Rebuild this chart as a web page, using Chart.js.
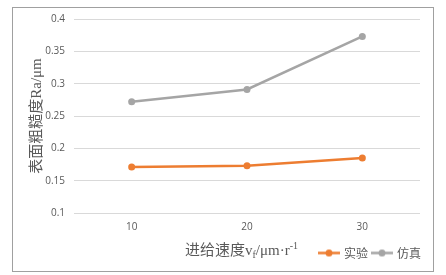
<!DOCTYPE html>
<html>
<head>
<meta charset="utf-8">
<script src="https://cdn.jsdelivr.net/npm/chart.js@4.4.1/dist/chart.umd.min.js"></script>
<style>
  html, body { margin: 0; padding: 0; background: #fff; }
  #box { width: 446px; height: 275px; }
</style>
</head>
<body>
<div id="box"><canvas id="chart" width="446" height="275"></canvas></div>
<script>
// data
const categories = ['10', '20', '30'];
const shiyan = [0.171, 0.173, 0.185];     // 实验
const fangzhen = [0.272, 0.291, 0.373];   // 仿真
const seriesNames = ['实验', '仿真'];
const yTitle = '表面粗糙度Ra/μm';
// x title: main text, subscript, text, superscript
const xTitle = ['进给速度v', 'f', '/μm·r', '-1'];

const ORANGE = '#ED7D31';
const GREY = '#A5A5A5';
const SERIF = "'Liberation Serif', 'Noto Sans CJK SC', serif";

// line with a dot in the middle, for the legend
function legendMark(color) {
  const c = document.createElement('canvas');
  c.width = 22; c.height = 9;
  const g = c.getContext('2d');
  g.strokeStyle = color;
  g.lineWidth = 2.5;
  g.beginPath(); g.moveTo(0, 4.5); g.lineTo(22, 4.5); g.stroke();
  g.fillStyle = color;
  g.beginPath(); g.arc(11, 4.5, 3.5, 0, Math.PI * 2); g.fill();
  return c;
}
const marks = [legendMark(ORANGE), legendMark(GREY)];

const frame = {
  id: 'frame',
  beforeDraw(chart) {
    const ctx = chart.ctx;
    ctx.save();
    ctx.fillStyle = '#fff';
    ctx.fillRect(0, 0, chart.width, chart.height);
    ctx.strokeStyle = '#a0a0a0';
    ctx.lineWidth = 1;
    ctx.strokeRect(12.5, 7.5, 421, 264);
    ctx.restore();
  },
  afterLayout(chart) {
    // push legend a bit to the right, it sits under the plot's right edge
    chart.legend.left += 6;
    chart.legend.right += 6;
  }
};

// x axis title with sub/superscript, drawn on the legend row
const xTitlePlugin = {
  id: 'xTitle',
  afterDraw(chart) {
    const ctx = chart.ctx;
    ctx.save();
    ctx.fillStyle = '#595959';
    ctx.textBaseline = 'alphabetic';
    let x = 185, y = 255;
    ctx.font = '15px ' + SERIF;
    ctx.fillText(xTitle[0], x, y); x += ctx.measureText(xTitle[0]).width;
    ctx.font = '10px ' + SERIF;
    ctx.fillText(xTitle[1], x, y + 3); x += ctx.measureText(xTitle[1]).width;
    ctx.font = '15px ' + SERIF;
    ctx.fillText(xTitle[2], x, y); x += ctx.measureText(xTitle[2]).width;
    ctx.font = '10px ' + SERIF;
    ctx.fillText(xTitle[3], x, y - 6);
    ctx.restore();
  }
};

const chart = new Chart(document.getElementById('chart'), {
  type: 'line',
  data: {
    labels: categories,
    datasets: [{
      label: seriesNames[0],
      data: shiyan,
      borderColor: ORANGE,
      backgroundColor: ORANGE,
      borderWidth: 2.5,
      pointRadius: 3.5,
      pointBorderWidth: 0,
    }, {
      label: seriesNames[1],
      data: fangzhen,
      borderColor: GREY,
      backgroundColor: GREY,
      borderWidth: 2.5,
      pointRadius: 3.5,
      pointBorderWidth: 0,
    }]
  },
  options: {
    responsive: false,
    animation: false,
    devicePixelRatio: 1,
    layout: { padding: { left: 24, right: 26, top: 19, bottom: 6 } },
    plugins: {
      tooltip: { enabled: false },
      legend: {
        position: 'bottom',
        align: 'end',
        labels: {
          usePointStyle: true,
          pointStyleWidth: 18,
          padding: 5,
          color: '#595959',
          font: { size: 12, family: "'Noto Sans CJK SC', sans-serif" },
          generateLabels(chart) {
            const items = Chart.defaults.plugins.legend.labels.generateLabels(chart);
            items.forEach((it, i) => { it.pointStyle = marks[i]; });
            return items;
          }
        }
      }
    },
    scales: {
      x: {
        offset: true,
        grid: { display: false, drawTicks: false },
        border: { display: false },
        ticks: { color: '#595959', padding: 8, font: { size: 10, family: "'Open Sans', sans-serif" } },
        afterFit(s) { s.height = 29; }
      },
      y: {
        min: 0.1,
        max: 0.4,
        ticks: {
          stepSize: 0.05, color: '#595959', padding: 9,
          font: { size: 10, family: "'Open Sans', sans-serif" },
          callback: v => String(+v.toFixed(2))
        },
        grid: { color: '#d9d9d9', lineWidth: 1, drawTicks: false },
        border: { display: false },
        title: {
          display: true,
          text: yTitle,
          color: '#595959',
          padding: { top: 4, bottom: 0 },
          font: { size: 15, family: SERIF }
        },
        afterFit(s) { s.width = 50; }
      }
    }
  },
  plugins: [frame, xTitlePlugin]
});
</script>
</body>
</html>
